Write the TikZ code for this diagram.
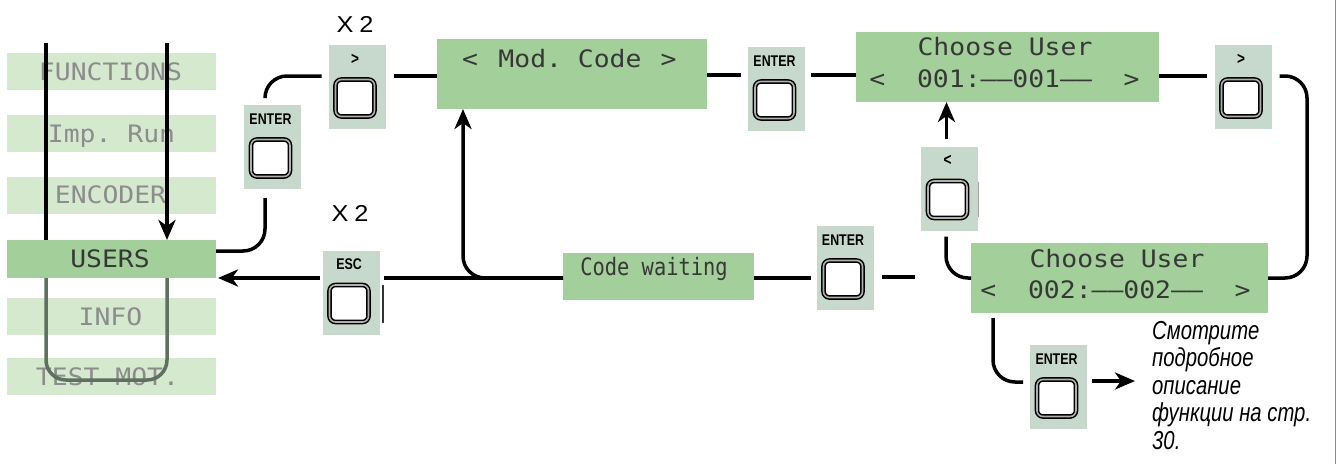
\documentclass[tikz,border=0pt]{standalone}
\usepackage{fontspec}
\usetikzlibrary{arrows.meta,calc}
\newfontfamily\lcdfont[FakeStretch=1.1]{DejaVu Sans Mono}
\newfontfamily\lcdnarrow[FakeStretch=0.85]{DejaVu Sans Mono}
\newfontfamily\labfont[FakeStretch=0.8]{Liberation Sans}
\newfontfamily\xfont[FakeStretch=1.1]{Liberation Sans}
\newfontfamily\notefont[FakeStretch=0.78]{Liberation Sans}
\definecolor{lcdgreen}{RGB}{163,207,154}
\definecolor{menugreen}{RGB}{213,233,207}
\definecolor{panelgray}{RGB}{198,217,204}
\definecolor{btnring}{RGB}{175,175,175}
\definecolor{loopgray}{RGB}{96,112,96}
\definecolor{edgeblue}{RGB}{41,171,226}
\definecolor{lcdtext}{RGB}{55,55,55}
\definecolor{menutext}{RGB}{140,140,140}
\newcommand\keypanel[4]{%
  \node[panelbox] (#1) at (#2,#3) {};
  \node[keybtn] (#1b) at ($(#1.center)+(-2,11)$) {};
  \node[keylabel] (#1l) at ($(#1.north -| #1b)+(0,19)$) {#4};
}
\begin{document}
\begin{tikzpicture}[x=1pt,y=-1pt,
  menubox/.style={fill=menugreen, minimum width=209pt, minimum height=37pt, inner sep=0pt, outer sep=0pt},
  lcdbox/.style={fill=lcdgreen, inner sep=0pt, outer sep=0pt},
  menutxt/.style={font=\lcdfont\fontsize{24}{28}\selectfont, text=menutext, anchor=base, inner sep=0pt},
  lcdtxt/.style={font=\lcdfont\fontsize{24}{28}\selectfont, text=lcdtext, anchor=base, inner sep=0pt},
  panelbox/.style={fill=panelgray, minimum width=57pt, minimum height=84pt, inner sep=0pt, outer sep=0pt},
  keylabel/.style={font=\labfont\bfseries\fontsize{15.5}{17}\selectfont, anchor=base, inner sep=0pt},
  keybtn/.style={draw=black, line width=1.5pt, double=btnring, double distance=1.6pt, fill=white, rounded corners=6pt, minimum width=39pt, minimum height=37pt, inner sep=0pt},
  conn/.style={line width=3.5pt, rounded corners=22pt},
  tip/.style={-{Stealth[length=20pt,width=17pt,inset=6pt]}},
  times/.style={font=\xfont\fontsize{23}{26}\selectfont, inner sep=0pt},
]
\fill[white] (0,0) rectangle (1338,464);
\useasboundingbox (0,0) rectangle (1338,464);

% ---- menu column
\node[menubox] (functions) at (111.5,71.5) {};
\node[menubox] (imprun) at (111.5,133.5) {};
\node[menubox] (encoder) at (111.5,195) {};
\node[menubox] (info) at (111.5,316.5) {};
\node[menubox] (testmot) at (111.5,376.5) {};
\node[menutxt] at ($(functions.center)+(-1,8.5)$) {FUNCTIONS};
\node[menutxt] at ($(imprun.center)+(0,8.5)$) {Imp.\ Run};
\node[menutxt] at ($(encoder.center)+(-1,8.5)$) {ENCODER};
\node[menutxt] at ($(info.center)+(-1,8.5)$) {INFO};
\node[menutxt] at ($(testmot.center)+(-4,8.5)$) {TEST\ MOT.};

\coordinate (mtopL) at (46,43);
\coordinate (mtopR) at (167,43);
\coordinate (mbot) at (167,380);
\draw[conn] (mtopL) -- (46,245);
\draw[conn,tip] (mtopR) -- (167,240);
\draw[conn,loopgray,rounded corners=20pt] (46,275) |- (mbot) -- (167,275);

\node[menubox, fill=lcdgreen, minimum height=38pt] (users) at (111.5,259) {};
\node[lcdtxt] at ($(users.center)+(-1.5,8.5)$) {USERS};

% ---- key panels
\keypanel{p1}{357}{87}{\fontsize{17}{17}\selectfont >}
\keypanel{p2}{272.5}{147}{ENTER}
\keypanel{p3}{776.5}{89}{ENTER}
\keypanel{p4}{1243}{87}{\fontsize{17}{17}\selectfont >}
\keypanel{p5}{949.5}{188.5}{\fontsize{17}{17}\selectfont <}
\keypanel{p6}{845}{268}{ENTER}
\keypanel{p7}{351}{292.5}{ESC}
\keypanel{p8}{1058.5}{387}{ENTER}
\draw[line width=2.5pt, black!80] (383,285) -- (383,323);
\draw[line width=1.4pt, black!35] (978.5,182) -- (978.5,217);

\node[times] (x2a) at (355,24) {X\hspace{0.25em}2};
\node[times] (x2b) at (350,213) {X\hspace{0.25em}2};

% ---- LCD displays
\node[lcdbox, minimum width=270pt, minimum height=70pt] (modcode) at (572,74) {};
\node[lcdtxt] at (470,67) {<};
\node[lcdtxt] at (570,67) {Mod.\ Code};
\node[lcdtxt] at (668.5,67) {>};

\node[lcdbox, minimum width=303pt, minimum height=70pt] (cu1) at (1007.5,67) {};
\node[lcdtxt] at (1005,55) {Choose\ User};
\node[lcdtxt] at (1004.5,87) {<\ \ 001:\symbol{"2013}\symbol{"2013}001\symbol{"2013}\symbol{"2013}\ \ >};

\node[lcdbox, minimum width=297pt, minimum height=70pt] (cu2) at (1119.5,278) {};
\node[lcdtxt] at (1117,267) {Choose\ User};
\node[lcdtxt] at (1115.5,298) {<\ \ 002:\symbol{"2013}\symbol{"2013}002\symbol{"2013}\symbol{"2013}\ \ >};

\node[lcdbox, minimum width=191pt, minimum height=47pt] (cw) at (658.5,276.5) {};
\node[lcdtxt, font=\lcdnarrow\fontsize{24}{28}\selectfont] at (654,275) {Code\ waiting};

\node[anchor=north west, inner sep=0pt, align=left,
      font=\notefont\itshape\fontsize{26}{27.5}\selectfont] (note) at (1152,321)
  {Смотрите\\подробное\\описание\\функции на стр.\\30.};

% ---- connectors
\draw[conn] ($(users.east)+(0,-8)$) -| ($(p2.south)+(-7.5,9)$);
\draw[conn] ($(p2.north)+(-7.5,-8)$) |- ($(p1.west)+(-7,-11)$);
\draw[conn] ($(p1.east)+(8,-11)$) -- ($(modcode.west)+(0,2)$);
\draw[conn] ($(modcode.east)+(0,1)$) -- ($(p3.west)+(-7,-14)$);
\draw[conn] ($(p3.east)+(6,-14)$) -- ($(cu1.west)+(0,8)$);
\draw[conn] ($(cu1.east)+(0,9)$) -- ($(p4.west)+(-8,-11)$);
\coordinate (rt) at (1307,278);
\draw[conn] ($(p4.east)+(8,-11)$) -| (rt) -- (cu2.east);
\draw[conn] ($(p5.south)+(-3.5,6)$) |- (cu2.west);
\coordinate (p5top) at ($(p5.north)+(-3,-8)$);
\draw[conn,tip] (p5top) -- (p5top |- cu1.south);
\coordinate (fe1) at (915,277);
\draw[conn] (fe1) -- ($(p6.east)+(8,9)$);
\draw[conn] ($(p6.west)+(-6,10)$) -- ($(cw.east)+(0,1.5)$);
\draw[conn] ($(cw.west)+(0,1.5)$) -- ($(p7.east)+(4,-14.5)$);
\draw[conn,tip] ($(cw.west)+(0,1.5)$) -| ($(modcode.south)+(-109,0)$);
\draw[conn,tip] ($(p7.west)+(-3,-14.5)$) -- ($(users.east)+(2,19)$);
\draw[conn] ($(cu2.south)+(-126.5,5)$) |- ($(p8.west)+(-7,-5)$);
\draw[conn,tip] ($(p8.east)+(5,-6)$) -- ($(note.west |- p8.east)+(-17,-6)$);

\draw[edgeblue, line width=1.5pt] (1335.5,0) -- (1335.5,464);
\end{tikzpicture}
\end{document}
